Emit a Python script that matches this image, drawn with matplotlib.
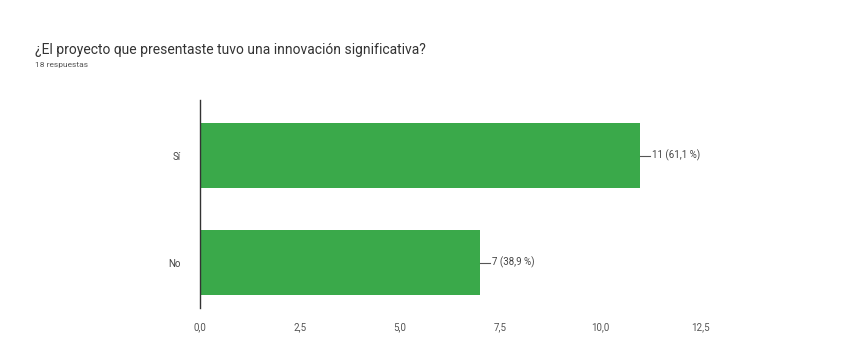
import matplotlib.pyplot as plt

# datos de la encuesta
opciones = ['No', 'Sí']
respuestas = [7, 11]
etiquetas = ['7 (38,9 %)', '11 (61,1 %)']
ticks = [0, 2.5, 5, 7.5, 10, 12.5]
tick_labels = ['0,0', '2,5', '5,0', '7,5', '10,0', '12,5']

plt.rcParams['font.family'] = ['Roboto', 'DejaVu Sans']

fig = plt.figure(figsize=(8.56, 3.41), dpi=100)
ax = fig.add_axes([200 / 856, 1 - 308 / 341, 540 / 856, 208 / 341])

verde = '#3aa94a'
ax.barh(range(len(opciones)), respuestas, height=0.61, color=verde)

# etiquetas de valor con pequeña línea guía
for i, (v, t) in enumerate(zip(respuestas, etiquetas)):
    ax.plot([v, v + 0.25], [i, i], color='#555555', lw=0.8)
    ax.text(v + 0.3, i, t, va='center', ha='left', fontsize=7, color='#444444')

ax.set_xlim(0, 13.5)
ax.set_ylim(-0.425, 1.519)
ax.set_yticks(range(len(opciones)))
ax.set_yticklabels(opciones, fontsize=7, color='#444444')
ax.set_xticks(ticks)
ax.set_xticklabels(tick_labels, fontsize=7, color='#555555')
ax.tick_params(axis='both', length=0, pad=10)
ax.tick_params(axis='y', pad=14)

for s in ['top', 'right', 'bottom']:
    ax.spines[s].set_visible(False)
ax.spines['left'].set_color('#333333')
ax.spines['left'].set_linewidth(1)

fig.text(35 / 856, 1 - 50 / 341, '¿El proyecto que presentaste tuvo una innovación significativa?',
         fontsize=10, color='#333333', va='center', ha='left')
fig.text(35 / 856, 1 - 65 / 341, '18 respuestas', fontsize=6, color='#555555',
         va='center', ha='left')

fig.savefig('out.png', dpi=100, facecolor='white')
